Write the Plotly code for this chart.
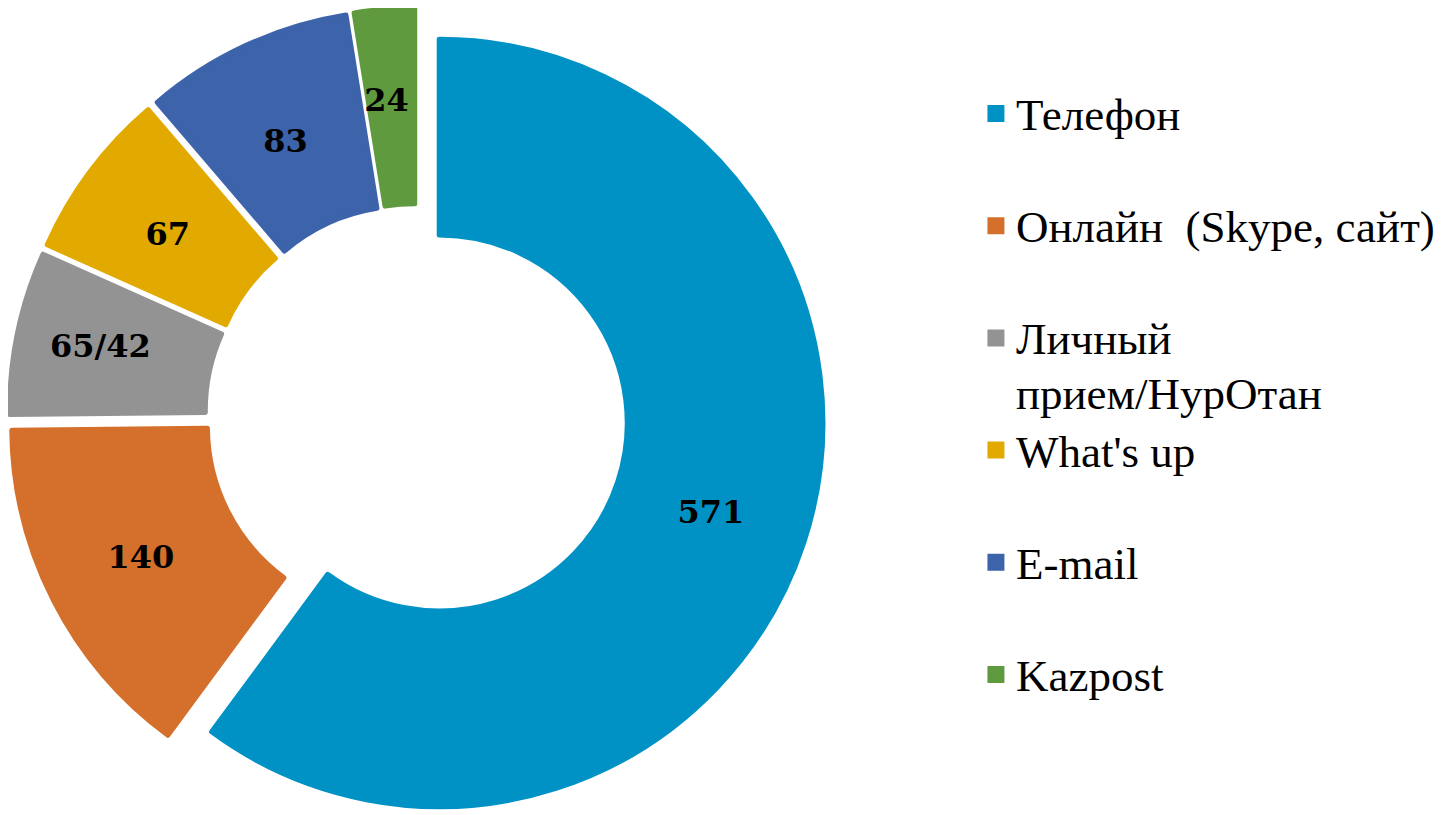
import plotly.graph_objects as go

# данные диаграммы
categories = ["Телефон", "Онлайн  (Skype, сайт)", "Личный<br>прием/НурОтан",
              "What's up", "E-mail", "Kazpost"]
values = [571, 140, 65, 67, 83, 24]
value_labels = ["571", "140", "65/42", "67", "83", "24"]
colors = ["#0091C5", "#D4702B", "#939393", "#E2AA00", "#3D64AA", "#609A3F"]

# узкие секторы: пустые строки сверху и пробелы слева сдвигают подпись к середине кольца
label_pad = [0, 0, 0, 1, 1, 3]
label_indent = [0, 0, 3, 4, 1, 0]
slice_text = ["\u00a0<br>" * n + "\u00a0" * k + t
              for n, k, t in zip(label_pad, label_indent, value_labels)]


# шрифт текста легенды задаём отдельно от шрифта легенды (он задаёт шаг строк),
# а однострочные подписи получают пустую вторую строку
def legend_name(c):
    lines = ["<span style='font-size:45px'>%s</span>" % s for s in c.split("<br>")]
    if len(lines) == 1:
        lines.append(" ")
    return "<br>".join(lines)


legend_names = [legend_name(c) for c in categories]

fig = go.Figure(go.Pie(
    labels=legend_names,
    values=values,
    text=slice_text,
    textinfo="text",
    textposition="inside",
    insidetextorientation="horizontal",
    textfont=dict(family="DejaVu Serif", size=32, color="black", weight="bold"),
    marker=dict(colors=colors, line=dict(color=colors, width=5)),
    hole=0.49,
    sort=False,
    direction="clockwise",
    rotation=0,
    pull=[0.062] * len(values),
    domain=dict(x=[0.0, 0.564], y=[0.0, 1.0]),
    hoverinfo="value",
))

fig.update_layout(
    width=1449,
    height=815,
    margin=dict(l=0, r=0, t=0, b=0),
    paper_bgcolor="white",
    plot_bgcolor="white",
    uniformtext=dict(minsize=32, mode="show"),
    legend=dict(
        x=0.668,
        xanchor="left",
        y=0.912,
        yanchor="top",
        valign="top",
        font=dict(family="Liberation Serif", size=42, color="black"),
        bgcolor="rgba(0,0,0,0)",
    ),
)

fig.write_html("out.html")
